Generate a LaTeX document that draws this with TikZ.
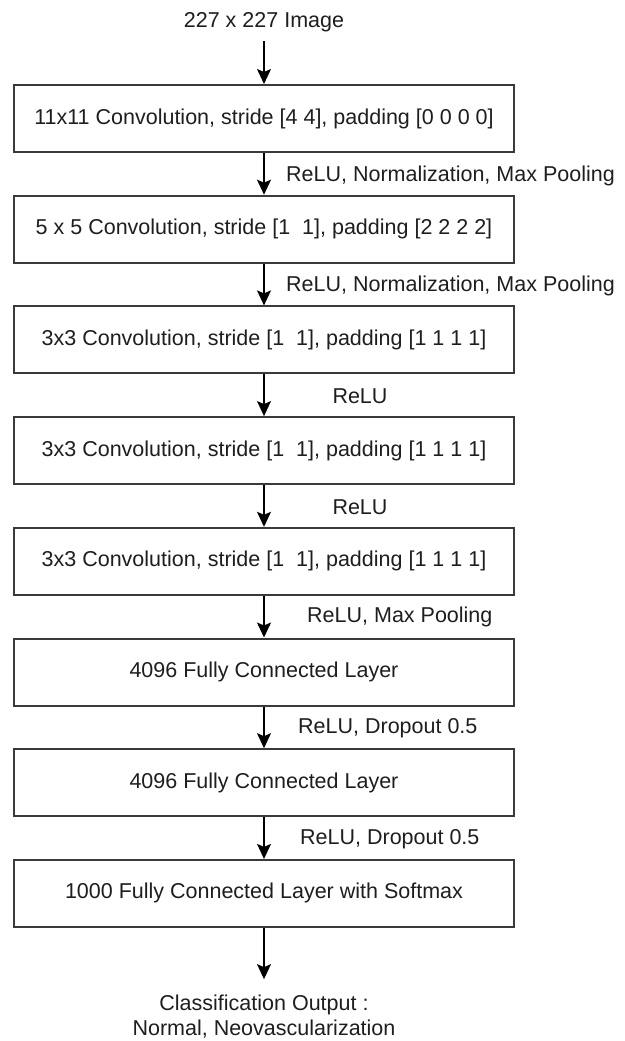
\documentclass[tikz,border=0pt]{standalone}
\usepackage{fontspec}
\setmainfont{Liberation Sans}
\usetikzlibrary{arrows.meta}
\definecolor{edge}{HTML}{3A3A3A}
\definecolor{ink}{HTML}{1E1E1E}
\tikzset{
  layer/.style={draw=edge, line width=2pt, fill=white, minimum width=500pt,
    minimum height=67pt, inner sep=0pt, text=ink},
  flow/.style={draw=black, line width=1.4pt,
    -{Stealth[length=15pt, width=14pt, inset=3pt]}},
  note/.style={text=ink, inner sep=0pt},
}
\begin{document}
\begin{tikzpicture}[x=1pt, y=-1pt, font=\fontsize{21.5}{25}\selectfont]
\useasboundingbox (0,0) rectangle (624,1041);

% input
\node[note] (img) at (264,22) {227 x 227 Image};

% layers, pitch 110.7pt
\node[layer] (l1) at (264,118.5) {11x11 Convolution, stride [4 4], padding [0 0 0 0]};
\node[layer] (l2) at (264,229.2) {5 x 5 Convolution, stride [1\ \ 1], padding [2 2 2 2]};
\node[layer] (l3) at (264,339.9) {3x3 Convolution, stride [1\ \ 1], padding [1 1 1 1]};
\node[layer] (l4) at (264,450.6) {3x3 Convolution, stride [1\ \ 1], padding [1 1 1 1]};
\node[layer] (l5) at (264,561.3) {3x3 Convolution, stride [1\ \ 1], padding [1 1 1 1]};
\node[layer] (l6) at (264,672.0) {4096 Fully Connected Layer};
\node[layer] (l7) at (264,782.7) {4096 Fully Connected Layer};
\node[layer] (l8) at (264,893.4) {1000 Fully Connected Layer with Softmax};

% output
\node[note, align=center] (out) at (264,1017) {Classification Output :\\Normal, Neovascularization};

% connectors
\draw[flow, shorten <=9pt] (img.south) -- (l1.north);
\draw[flow] (l1.south) -- (l2.north);
\draw[flow] (l2.south) -- (l3.north);
\draw[flow] (l3.south) -- (l4.north);
\draw[flow] (l4.south) -- (l5.north);
\draw[flow] (l5.south) -- (l6.north);
\draw[flow] (l6.south) -- (l7.north);
\draw[flow] (l7.south) -- (l8.north);
\draw[flow, shorten >=16pt] (l8.south) -- (out.north);

% operations between layers
\node[note, anchor=west] (o1) at (286,175.5) {ReLU, Normalization, Max Pooling};
\node[note, anchor=west] (o2) at (286,285.5) {ReLU, Normalization, Max Pooling};
\node[note] (o3) at (360,396.5) {ReLU};
\node[note] (o4) at (360,507) {ReLU};
\node[note, anchor=west] (o5) at (307,617) {ReLU, Max Pooling};
\node[note, anchor=west] (o6) at (298,728) {ReLU, Dropout 0.5};
\node[note, anchor=west] (o7) at (300,839) {ReLU, Dropout 0.5};
\end{tikzpicture}
\end{document}
